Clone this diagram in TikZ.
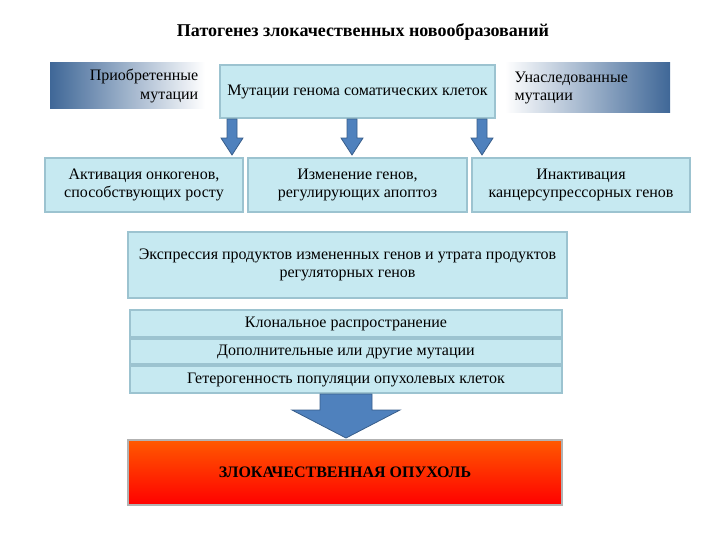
\documentclass[tikz,border=0pt]{standalone}
\usepackage{fontspec}
\setmainfont{Liberation Serif}
\begin{document}
\begin{tikzpicture}[x=0.75pt,y=-0.75pt,
  box/.style={draw=boxedge,line width=2pt,fill=boxfill,inner sep=0pt,align=center,font=\fontsize{12}{14}\selectfont},
  barr/.style={draw=arrowedge,fill=arrowblue,line width=0.6pt}]
\definecolor{boxfill}{HTML}{C6E9F1}
\definecolor{boxedge}{HTML}{9CC3D0}
\definecolor{arrowblue}{HTML}{4F81BD}
\definecolor{arrowedge}{HTML}{385D8A}
\useasboundingbox (0,0) rectangle (720,540);
\node[font=\fontsize{13.5}{15}\selectfont\bfseries] (title) at (363,32) {Патогенез злокачественных новообразований};
% gradient side boxes
\shade[left color=arrowblue!80!black, right color=white] (50,62) rectangle (205,108);
\node[align=right,anchor=east,font=\fontsize{12}{14}\selectfont] (acq) at (203,86) {Приобретенные\\мутации};
\shade[right color=arrowblue!80!black, left color=white] (505,62) rectangle (670,112);
\node[align=left,anchor=west,font=\fontsize{12}{14}\selectfont] (inh) at (510,88) {Унаследованные\\мутации};
\node[box,minimum width=275pt*0.75,minimum height=53pt*0.75] (mut) at (357.5,91.5) {Мутации генома соматических клеток};
\node[box,minimum width=198pt*0.75,minimum height=54pt*0.75] (b1) at (144,185) {Активация онкогенов,\\способствующих росту};
\node[box,minimum width=219pt*0.75,minimum height=54pt*0.75] (b2) at (357.5,185) {Изменение генов,\\регулирующих апоптоз};
\node[box,minimum width=218pt*0.75,minimum height=54pt*0.75] (b3) at (581,185) {Инактивация\\канцерсупрессорных генов};
\foreach \xx/\t in {232/b1,352/b2,482/b3}{
  \draw[barr] (\xx-5,119) -- (\xx+5,119) -- (\xx+5,138) -- (\xx+11,138) -- (\xx,155) -- (\xx-11,138) -- (\xx-5,138) -- cycle;
}
\node[box,minimum width=439pt*0.75,minimum height=66pt*0.75] (expr) at (347.5,265) {Экспрессия продуктов измененных генов и утрата продуктов\\регуляторных генов};
\node[box,minimum width=432pt*0.75,minimum height=27pt*0.75] (c1) at (346,323.5) {Клональное распространение};
\node[box,minimum width=432pt*0.75,minimum height=25pt*0.75] (c2) at (346,351.5) {Дополнительные или другие мутации};
\node[box,minimum width=432pt*0.75,minimum height=27pt*0.75] (c3) at (346,379.5) {Гетерогенность популяции опухолевых клеток};
\draw[barr] (320,394) -- (372,394) -- (372,410) -- (400,410) -- (346,438) -- (292,410) -- (320,410) -- cycle;
\shade[bottom color=red, top color=orange!70!red, draw=gray!60, line width=1.5pt] (128,440) rectangle (562,505);
\node[font=\fontsize{12}{14}\selectfont\bfseries] (tumor) at (345,472) {ЗЛОКАЧЕСТВЕННАЯ ОПУХОЛЬ};
\end{tikzpicture}
\end{document}
